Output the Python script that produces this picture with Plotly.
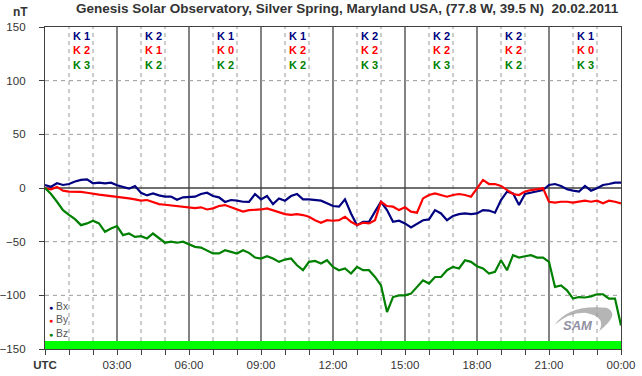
import plotly.graph_objects as go

# time in hours UTC, 15-minute steps
hours = [i * 0.25 for i in range(97)]

bx = [2.8, 1.2, 4.4, 2.8, 3.7, 6.0, 7.5, 8.0, 4.4, 5.0, 4.4, 5.0,
      2.5, 1.2, -0.6, 1.9, -4.4, -6.9, -5.0, -6.9, -8.0, -8.0, -11.0, -8.7,
      -8.1, -8.1, -5.6, -4.4, -7.5, -8.7, -13.0, -11.2, -11.8, -12.8, -13.0, -5.6,
      -10.6, -7.5, -15.0, -9.7, -11.8, -7.5, -5.6, -10.6, -10.6, -11.2, -11.8, -14.3,
      -16.8, -17.4, -10.6, -23.7, -34.6, -31.5, -31.5, -22.0, -12.8, -20.6, -31.5, -30.5,
      -33.0, -36.8, -33.0, -30.0, -29.3, -20.6, -23.7, -30.0, -26.0, -24.3, -23.7, -24.3,
      -23.7, -20.6, -21.0, -23.0, -11.2, -3.4, -5.0, -15.9, -5.6, -4.4, -2.5, -1.9,
      2.8, 3.7, 1.9, -1.2, -2.5, -3.4, 1.9, -2.5, -0.3, 2.8, 3.7, 5.0, 5.0]

by = [-0.3, -1.2, 1.0, -2.5, -3.4, -3.4, -3.7, -4.4, -5.6, -6.2, -6.9, -7.5,
      -8.7, -9.3, -9.7, -10.6, -11.8, -11.2, -13.0, -15.0, -15.6, -16.2, -16.8, -18.0,
      -18.0, -18.7, -18.0, -20.0, -19.0, -16.8, -15.9, -18.0, -20.0, -22.0, -20.6, -20.6,
      -20.0, -19.0, -20.6, -22.0, -24.3, -25.0, -24.3, -25.2, -26.8, -30.0, -32.4, -30.0,
      -30.5, -30.0, -26.8, -31.5, -34.6, -32.4, -33.0, -30.0, -12.8, -16.8, -17.4, -20.6,
      -18.0, -22.0, -23.0, -9.7, -6.5, -5.0, -6.5, -8.1, -6.5, -5.6, -6.5, -8.1,
      -0.3, 7.5, 3.7, 3.7, 1.9, -1.9, -5.6, -6.5, -3.4, -1.9, -1.2, -0.3,
      -12.8, -13.7, -12.8, -12.8, -13.7, -12.8, -11.8, -12.8, -11.8, -14.3, -11.8, -12.8, -14.3]

bz = [0.0, -5.6, -12.8, -20.6, -25.0, -29.0, -34.6, -33.0, -30.5, -33.0, -40.8, -37.7,
      -35.5, -43.9, -42.4, -45.5, -44.9, -47.0, -42.4, -47.0, -51.0, -50.0, -51.0, -50.0,
      -52.3, -54.8, -55.5, -58.0, -61.0, -61.0, -58.0, -59.5, -61.0, -58.0, -60.4, -64.8,
      -65.7, -63.6, -65.7, -68.8, -66.7, -65.7, -72.0, -76.6, -68.8, -68.0, -70.4, -67.3,
      -73.5, -76.6, -75.0, -79.7, -73.5, -76.6, -76.6, -82.9, -90.7, -115.6, -101.6, -100.0,
      -100.0, -98.4, -92.2, -86.0, -89.0, -82.9, -82.9, -76.6, -73.5, -75.0, -67.3, -68.8,
      -72.9, -75.0, -79.7, -78.0, -67.3, -76.6, -62.6, -64.8, -63.6, -62.6, -64.8, -64.8,
      -68.8, -92.2, -90.7, -95.3, -103.0, -101.6, -102.0, -101.0, -99.0, -99.0, -103.0, -103.0, -128.0]

series_names = ["Bx", "By", "Bz"]
series_colors = ["#000080", "#ff0000", "#008000"]

k_block_centers = [1.5, 4.5, 7.5, 10.5, 13.5, 16.5, 19.5, 22.5]
k_bx = [1, 2, 1, 1, 2, 2, 2, 1]
k_by = [2, 1, 0, 2, 2, 2, 2, 0]
k_bz = [3, 2, 2, 2, 3, 3, 2, 3]

x_tickvals = list(range(25))
x_ticktext = ["<b>UTC</b>" if h == 0 else ("%02d:00" % (h % 24) if h % 3 == 0 else "") for h in x_tickvals]
y_tickvals = [-150, -100, -50, 0, 50, 100, 150]

title_text = "Genesis Solar Observatory, Silver Spring, Maryland USA, (77.8 W, 39.5 N)  20.02.2011"

FONT = "Liberation Sans, Arial, sans-serif"
TXT = "#333333"

fig = go.Figure()

for name, vals, col in zip(series_names, [bx, by, bz], series_colors):
    fig.add_trace(go.Scatter(x=hours, y=vals, mode="lines", name=name,
                             line=dict(color=col, width=2.2), showlegend=False,
                             hoverinfo="skip"))

shapes = []
# vertical grid
for h in range(1, 24):
    if h % 3 == 0:
        shapes.append(dict(type="line", xref="x", yref="y", x0=h, x1=h, y0=-150, y1=150,
                           line=dict(color="#404040", width=1.3), layer="below"))
    else:
        shapes.append(dict(type="line", xref="x", yref="y", x0=h, x1=h, y0=-150, y1=150,
                           line=dict(color="#9a9a9a", width=1, dash="4px,4px"), layer="below"))
# horizontal grid
for v in [-100, -50, 50, 100]:
    shapes.append(dict(type="line", xref="x", yref="y", x0=0, x1=24, y0=v, y1=v,
                       line=dict(color="#9a9a9a", width=1, dash="4px,4px"), layer="below"))
shapes.append(dict(type="line", xref="x", yref="y", x0=0, x1=24, y0=0, y1=0,
                   line=dict(color="#404040", width=1.3), layer="below"))
# green band
shapes.append(dict(type="rect", xref="x", yref="y", x0=0, x1=24, y0=-150, y1=-142.5,
                   fillcolor="#00ff00", line=dict(width=0), layer="above"))
# SAM logo swoosh
shapes.append(dict(type="path", xref="paper", yref="paper",
                   path="M 0.885 0.075 Q 0.91 0.14 0.975 0.128 Q 1.0 0.11 0.962 0.055 Q 0.975 0.1 0.94 0.112 Q 0.91 0.115 0.885 0.075 Z",
                   fillcolor="rgba(150,150,150,0.7)", line=dict(width=0), layer="above"))

annotations = []
annotations.append(dict(text="<b>" + title_text + "</b>", xref="paper", yref="paper",
                        x=0.526, y=1.0, yshift=28, xanchor="center", yanchor="top",
                        showarrow=False, font=dict(family=FONT, size=13.5, color=TXT)))
annotations.append(dict(text="<b>nT</b>", xref="paper", yref="paper",
                        x=-0.0434, y=1.0, yshift=24, xanchor="center", yanchor="top",
                        showarrow=False, font=dict(family=FONT, size=12, color=TXT)))
for xc, a, b, c in zip(k_block_centers, k_bx, k_by, k_bz):
    txt = "<br>".join("<span style='color:%s'><b>K %d</b></span>" % (col, k)
                      for col, k in zip(series_colors, [a, b, c]))
    annotations.append(dict(text=txt, xref="x", yref="paper", x=xc, y=1.0, yshift=-2,
                            xanchor="center", yanchor="top", showarrow=False, borderpad=0,
                            font=dict(family=FONT, size=11, color=series_colors[0])))
# legend (one block of three lines)
legend_txt = "<br>".join("<span style='color:%s;font-size:7px'>&#9679;</span> %s" % (col, name)
                         for name, col in zip(series_names, series_colors))
annotations.append(dict(text=legend_txt, xref="paper", yref="paper", x=0.005, y=0.152,
                        xanchor="left", yanchor="top", showarrow=False, align="left",
                        borderpad=0, font=dict(family=FONT, size=10.3, color="#555555")))
annotations.append(dict(text="<i><b>SAM</b></i>", xref="paper", yref="paper", x=0.925, y=0.072,
                        xanchor="center", yanchor="middle", showarrow=False,
                        font=dict(family=FONT, size=13, color="rgba(130,130,150,0.9)")))

fig.update_layout(
    width=642, height=376,
    margin=dict(l=45, r=21, t=27, b=27),
    paper_bgcolor="white", plot_bgcolor="white",
    showlegend=False,
    shapes=shapes, annotations=annotations,
    font=dict(family=FONT, size=11, color=TXT),
)
fig.update_xaxes(range=[0, 24], tickvals=x_tickvals, ticktext=x_ticktext, automargin=False,
                 showgrid=False, zeroline=False, showline=True, linecolor="#404040",
                 linewidth=1.3, mirror=True, ticks="outside", ticklen=5,
                 tickcolor="#404040", tickfont=dict(family=FONT, size=11.5, color=TXT))
fig.update_yaxes(range=[-150, 150], tickvals=y_tickvals, automargin=False,
                 showgrid=False, zeroline=False, showline=True, linecolor="#404040",
                 linewidth=1.3, mirror=True, ticks="outside", ticklen=5, ticklabelstandoff=11,
                 tickcolor="#404040", tickfont=dict(family=FONT, size=11.5, color=TXT))

fig.write_html("out.html", config={"displayModeBar": False},
               post_script="document.body.style.margin='0';document.body.style.padding='0';")
